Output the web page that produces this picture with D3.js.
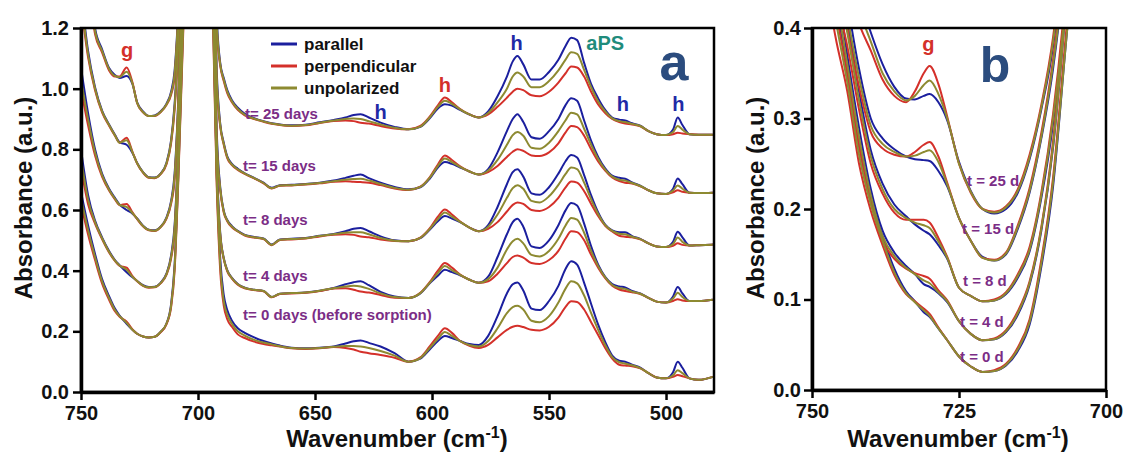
<!DOCTYPE html>
<html>
<head>
<meta charset="utf-8">
<script src="https://cdn.jsdelivr.net/npm/d3@7"></script>
<style>
  body { margin: 0; background: #fff; }
  svg text { font-family: "Liberation Sans", Arial, sans-serif; font-weight: bold; }
</style>
</head>
<body>
<svg id="chart" width="1124" height="452"></svg>
<script>
// ---------- Panel a: full spectra, 750-480 cm-1 ----------
const wnA = [750, 747, 744, 741, 738, 735.5, 733.5, 730.5, 728, 726,
  723.5, 721, 718.5, 716, 713.5, 711.5, 710, 708.5, 706, 700,
  694, 692, 690.5, 689, 687.5, 685.5, 683, 680, 676, 672,
  668.5, 665, 660, 654, 648, 642, 637, 633.5, 630.5, 627,
  622, 616, 610, 605, 601, 597.5, 594.5, 591.5, 588, 584,
  580, 576, 572, 568, 565.5, 563.5, 561, 557.5, 554, 550,
  546, 543, 540.5, 538, 535, 532, 529, 526, 523, 520,
  517.5, 514.5, 511, 507.5, 504, 500, 497, 495, 493, 490,
  486, 480];

const a25Par = [1.62, 1.42, 1.2, 1.13, 1.068, 1.045, 1.035, 1.042, 1.015, 0.955,
  0.925, 0.91, 0.912, 0.925, 0.95, 0.99, 1.06, 1.25, 1.85, 2.6,
  1.9, 1.24, 1.085, 1.035, 0.995, 0.962, 0.937, 0.917, 0.903, 0.893,
  0.886, 0.882, 0.879, 0.881, 0.889, 0.897, 0.905, 0.913, 0.916, 0.905,
  0.888, 0.874, 0.866, 0.874, 0.902, 0.935, 0.949, 0.944, 0.93, 0.915,
  0.905, 0.925, 0.975, 1.04, 1.09, 1.108, 1.08, 1.03, 1.03, 1.055,
  1.095, 1.14, 1.168, 1.16, 1.085, 1.015, 0.968, 0.93, 0.905, 0.898,
  0.895, 0.886, 0.878, 0.86, 0.85, 0.847, 0.865, 0.905, 0.88, 0.85,
  0.848, 0.848];
const a25Unp = [1.6, 1.4, 1.19, 1.125, 1.065, 1.042, 1.038, 1.056, 1.017, 0.953,
  0.923, 0.91, 0.911, 0.923, 0.948, 0.985, 1.05, 1.24, 1.83, 2.6,
  1.88, 1.22, 1.08, 1.03, 0.99, 0.958, 0.933, 0.914, 0.901, 0.892,
  0.885, 0.881, 0.878, 0.88, 0.888, 0.895, 0.9, 0.902, 0.9, 0.893,
  0.882, 0.871, 0.866, 0.875, 0.905, 0.94, 0.96, 0.95, 0.932, 0.915,
  0.905, 0.92, 0.955, 1.0, 1.04, 1.053, 1.04, 1.005, 1.005, 1.025,
  1.06, 1.095, 1.12, 1.115, 1.062, 1.005, 0.958, 0.925, 0.902, 0.893,
  0.89, 0.884, 0.877, 0.86, 0.85, 0.847, 0.857, 0.877, 0.865, 0.85,
  0.848, 0.848];
const a25Per = [1.58, 1.38, 1.18, 1.12, 1.06, 1.04, 1.04, 1.07, 1.02, 0.952,
  0.922, 0.91, 0.91, 0.922, 0.946, 0.98, 1.04, 1.23, 1.8, 2.6,
  1.86, 1.2, 1.075, 1.025, 0.985, 0.955, 0.93, 0.912, 0.9, 0.891,
  0.884, 0.88, 0.877, 0.879, 0.887, 0.893, 0.895, 0.893, 0.888, 0.885,
  0.877, 0.869, 0.866, 0.877, 0.908, 0.945, 0.971, 0.955, 0.933, 0.915,
  0.905, 0.915, 0.94, 0.97, 0.99, 1.0, 0.995, 0.978, 0.975, 0.99,
  1.02, 1.05, 1.073, 1.07, 1.04, 0.99, 0.948, 0.92, 0.9, 0.89,
  0.885, 0.882, 0.876, 0.86, 0.85, 0.847, 0.85, 0.855, 0.852, 0.85,
  0.848, 0.848];

const a15Par = [1.32, 1.125, 1.005, 0.928, 0.882, 0.848, 0.823, 0.815, 0.788, 0.755,
  0.725, 0.708, 0.707, 0.72, 0.755, 0.83, 0.95, 1.15, 1.7, 2.5,
  1.75, 1.06, 0.885, 0.822, 0.777, 0.752, 0.736, 0.721, 0.706, 0.69,
  0.673, 0.682, 0.683, 0.686, 0.69, 0.697, 0.706, 0.713, 0.717, 0.705,
  0.69, 0.676, 0.668, 0.675, 0.703, 0.74, 0.758, 0.752, 0.74, 0.727,
  0.717, 0.735, 0.79, 0.86, 0.9, 0.916, 0.89, 0.84, 0.835, 0.86,
  0.9, 0.945, 0.968, 0.96, 0.895, 0.828, 0.775, 0.737, 0.713, 0.706,
  0.703, 0.691, 0.68, 0.665, 0.655, 0.653, 0.67, 0.704, 0.685, 0.657,
  0.656, 0.657];
const a15Unp = [1.3, 1.115, 1.0, 0.925, 0.88, 0.846, 0.822, 0.83, 0.79, 0.754,
  0.724, 0.707, 0.706, 0.719, 0.753, 0.825, 0.94, 1.14, 1.68, 2.5,
  1.72, 1.04, 0.88, 0.818, 0.774, 0.75, 0.734, 0.72, 0.705, 0.689,
  0.672, 0.681, 0.682, 0.685, 0.689, 0.695, 0.7, 0.702, 0.703, 0.697,
  0.686, 0.673, 0.667, 0.676, 0.706, 0.745, 0.77, 0.758, 0.742, 0.727,
  0.717, 0.73, 0.765, 0.815, 0.847, 0.857, 0.845, 0.805, 0.802, 0.822,
  0.86, 0.895, 0.921, 0.915, 0.868, 0.815, 0.768, 0.733, 0.71, 0.7,
  0.697, 0.689, 0.679, 0.665, 0.655, 0.653, 0.664, 0.681, 0.67, 0.657,
  0.656, 0.657];
const a15Per = [1.28, 1.105, 0.995, 0.922, 0.878, 0.845, 0.822, 0.838, 0.792, 0.753,
  0.723, 0.706, 0.705, 0.718, 0.75, 0.82, 0.93, 1.13, 1.66, 2.5,
  1.7, 1.02, 0.875, 0.815, 0.771, 0.748, 0.732, 0.719, 0.704, 0.688,
  0.671, 0.68, 0.681, 0.684, 0.688, 0.693, 0.695, 0.693, 0.692, 0.69,
  0.682, 0.671, 0.666, 0.677, 0.708, 0.75, 0.78, 0.765, 0.744, 0.727,
  0.717, 0.725, 0.745, 0.775, 0.792, 0.8, 0.795, 0.78, 0.778, 0.79,
  0.82, 0.855, 0.877, 0.873, 0.845, 0.8, 0.76, 0.73, 0.707, 0.695,
  0.69, 0.687, 0.678, 0.665, 0.655, 0.653, 0.658, 0.665, 0.66, 0.657,
  0.656, 0.657];

const a8Par = [1.07, 0.92, 0.8, 0.72, 0.67, 0.64, 0.618, 0.6, 0.588, 0.572,
  0.548, 0.535, 0.533, 0.545, 0.575, 0.63, 0.72, 0.95, 1.6, 2.4,
  1.6, 0.86, 0.675, 0.598, 0.567, 0.547, 0.531, 0.518, 0.511, 0.506,
  0.486, 0.503, 0.505, 0.508, 0.515, 0.521, 0.53, 0.538, 0.541, 0.53,
  0.513, 0.5, 0.497, 0.507, 0.535, 0.563, 0.58, 0.572, 0.56, 0.542,
  0.53, 0.55, 0.61, 0.685, 0.725, 0.734, 0.71, 0.655, 0.65, 0.675,
  0.72, 0.76, 0.781, 0.773, 0.715, 0.648, 0.592, 0.552, 0.533, 0.527,
  0.527, 0.514, 0.505, 0.49, 0.48, 0.478, 0.495, 0.528, 0.51, 0.483,
  0.484, 0.486];
const a8Unp = [1.03, 0.9, 0.79, 0.715, 0.667, 0.637, 0.617, 0.61, 0.59, 0.571,
  0.547, 0.534, 0.532, 0.544, 0.573, 0.625, 0.71, 0.94, 1.58, 2.4,
  1.58, 0.84, 0.67, 0.595, 0.565, 0.545, 0.53, 0.517, 0.51, 0.505,
  0.485, 0.502, 0.504, 0.507, 0.514, 0.52, 0.525, 0.527, 0.527, 0.52,
  0.508, 0.499, 0.497, 0.508, 0.537, 0.57, 0.592, 0.578, 0.561, 0.542,
  0.53, 0.545, 0.585, 0.64, 0.672, 0.682, 0.67, 0.63, 0.625, 0.645,
  0.683, 0.718, 0.74, 0.735, 0.69, 0.635, 0.587, 0.55, 0.531, 0.522,
  0.52, 0.512, 0.504, 0.49, 0.48, 0.478, 0.488, 0.509, 0.495, 0.483,
  0.484, 0.486];
const a8Per = [1.0, 0.88, 0.78, 0.71, 0.664, 0.635, 0.616, 0.62, 0.592, 0.57,
  0.546, 0.533, 0.531, 0.543, 0.571, 0.62, 0.7, 0.93, 1.56, 2.4,
  1.56, 0.82, 0.665, 0.592, 0.563, 0.543, 0.529, 0.516, 0.509, 0.504,
  0.484, 0.501, 0.503, 0.506, 0.513, 0.518, 0.52, 0.518, 0.513, 0.51,
  0.503, 0.498, 0.497, 0.509, 0.539, 0.578, 0.602, 0.585, 0.562, 0.542,
  0.53, 0.538, 0.56, 0.595, 0.617, 0.625, 0.62, 0.6, 0.597, 0.61,
  0.64, 0.674, 0.694, 0.69, 0.662, 0.62, 0.58, 0.548, 0.529, 0.515,
  0.512, 0.51, 0.503, 0.49, 0.48, 0.478, 0.482, 0.49, 0.485, 0.483,
  0.484, 0.486];

const a4Par = [0.8, 0.65, 0.565, 0.51, 0.465, 0.435, 0.418, 0.395, 0.378, 0.366,
  0.352, 0.346, 0.347, 0.36, 0.39, 0.45, 0.55, 0.8, 1.5, 2.3,
  1.5, 0.76, 0.525, 0.442, 0.402, 0.376, 0.356, 0.344, 0.337, 0.333,
  0.313, 0.324, 0.326, 0.328, 0.334, 0.343, 0.355, 0.362, 0.365, 0.352,
  0.33, 0.315, 0.31, 0.325, 0.358, 0.383, 0.403, 0.395, 0.385, 0.37,
  0.36, 0.38, 0.445, 0.52, 0.56, 0.571, 0.545, 0.48, 0.475, 0.5,
  0.55, 0.598, 0.623, 0.615, 0.555, 0.48, 0.42, 0.38, 0.356, 0.348,
  0.345, 0.333, 0.325, 0.31, 0.298, 0.295, 0.315, 0.346, 0.325, 0.3,
  0.3, 0.304];
const a4Unp = [0.77, 0.635, 0.56, 0.507, 0.462, 0.433, 0.417, 0.403, 0.38, 0.366,
  0.351, 0.345, 0.346, 0.359, 0.388, 0.445, 0.54, 0.79, 1.48, 2.3,
  1.48, 0.74, 0.52, 0.44, 0.4, 0.375, 0.355, 0.343, 0.337, 0.333,
  0.313, 0.324, 0.326, 0.328, 0.334, 0.342, 0.348, 0.35, 0.348, 0.34,
  0.325, 0.313, 0.31, 0.326, 0.36, 0.392, 0.415, 0.402, 0.386, 0.37,
  0.36, 0.372, 0.41, 0.47, 0.497, 0.505, 0.49, 0.452, 0.447, 0.465,
  0.505, 0.548, 0.574, 0.568, 0.525, 0.465, 0.415, 0.378, 0.353, 0.343,
  0.34, 0.331, 0.324, 0.31, 0.298, 0.295, 0.308, 0.327, 0.313, 0.3,
  0.3, 0.304];
const a4Per = [0.74, 0.62, 0.555, 0.504, 0.46, 0.432, 0.416, 0.41, 0.382, 0.365,
  0.35, 0.344, 0.345, 0.358, 0.386, 0.44, 0.53, 0.78, 1.46, 2.3,
  1.46, 0.72, 0.515, 0.438, 0.398, 0.374, 0.354, 0.342, 0.336, 0.332,
  0.312, 0.323, 0.325, 0.327, 0.333, 0.341, 0.342, 0.337, 0.331, 0.328,
  0.32, 0.311, 0.31, 0.327, 0.362, 0.4, 0.425, 0.41, 0.387, 0.37,
  0.36, 0.365, 0.39, 0.425, 0.445, 0.45, 0.443, 0.425, 0.422, 0.435,
  0.465, 0.505, 0.53, 0.527, 0.5, 0.452, 0.41, 0.375, 0.35, 0.338,
  0.333, 0.329, 0.323, 0.31, 0.298, 0.295, 0.3, 0.306, 0.302, 0.3,
  0.3, 0.304];

const a0Par = [0.66, 0.55, 0.455, 0.372, 0.316, 0.275, 0.252, 0.225, 0.205, 0.192,
  0.183, 0.18, 0.182, 0.198, 0.225, 0.29, 0.42, 0.7, 1.3, 2.2,
  1.4, 0.72, 0.44, 0.32, 0.27, 0.235, 0.21, 0.195, 0.18, 0.168,
  0.16, 0.153, 0.146, 0.144, 0.146, 0.15, 0.16, 0.167, 0.17, 0.162,
  0.15, 0.128, 0.1, 0.11, 0.14, 0.168, 0.185, 0.178, 0.168, 0.158,
  0.155, 0.185, 0.25, 0.325, 0.355, 0.361, 0.335, 0.275, 0.27, 0.3,
  0.35, 0.405, 0.431, 0.42, 0.36, 0.29, 0.222, 0.165, 0.12, 0.103,
  0.1, 0.09, 0.08, 0.062, 0.048, 0.045, 0.065, 0.1, 0.08, 0.045,
  0.04, 0.05];
const a0Unp = [0.64, 0.535, 0.445, 0.365, 0.31, 0.27, 0.25, 0.228, 0.205, 0.192,
  0.183, 0.18, 0.182, 0.198, 0.225, 0.285, 0.41, 0.69, 1.28, 2.2,
  1.38, 0.7, 0.42, 0.3, 0.255, 0.225, 0.2, 0.186, 0.172, 0.163,
  0.157, 0.151, 0.145, 0.143, 0.145, 0.149, 0.152, 0.152, 0.15, 0.145,
  0.135, 0.12, 0.1, 0.112, 0.145, 0.175, 0.198, 0.185, 0.168, 0.155,
  0.15, 0.168, 0.21, 0.26, 0.28, 0.284, 0.272, 0.235, 0.23, 0.25,
  0.295, 0.34, 0.365, 0.358, 0.318, 0.26, 0.205, 0.155, 0.115, 0.098,
  0.094, 0.088, 0.079, 0.062, 0.048, 0.045, 0.055, 0.072, 0.062, 0.045,
  0.04, 0.05];
const a0Per = [0.62, 0.52, 0.435, 0.358, 0.304, 0.266, 0.248, 0.232, 0.206, 0.192,
  0.183, 0.18, 0.182, 0.197, 0.223, 0.28, 0.4, 0.68, 1.26, 2.2,
  1.36, 0.68, 0.4, 0.285, 0.24, 0.215, 0.19, 0.178, 0.166, 0.158,
  0.154, 0.15, 0.144, 0.142, 0.144, 0.148, 0.145, 0.14, 0.133, 0.128,
  0.122, 0.113, 0.1, 0.114, 0.15, 0.185, 0.21, 0.195, 0.168, 0.152,
  0.145, 0.155, 0.18, 0.205, 0.215, 0.218, 0.214, 0.205, 0.203, 0.215,
  0.245, 0.28, 0.299, 0.297, 0.272, 0.23, 0.188, 0.145, 0.11, 0.09,
  0.087, 0.085, 0.078, 0.062, 0.048, 0.045, 0.05, 0.056, 0.052, 0.045,
  0.04, 0.05];

const timeLabelsA = ["t= 25 days", "t= 15 days", "t= 8 days", "t= 4 days", "t= 0 days (before sorption)"];

// ---------- Panel b: zoom on the g band, 750-700 cm-1 ----------
const wnB = [750, 746, 744, 742, 740, 738, 736, 734, 732.5, 731,
  730, 728.5, 727, 725, 723, 721, 719, 717, 715, 713,
  711, 709, 707, 705, 700];

const b25Par = [0.8, 0.58, 0.48, 0.435, 0.395, 0.36, 0.335, 0.322, 0.321, 0.325, 0.327, 0.318, 0.298, 0.252, 0.22, 0.2, 0.195, 0.2, 0.218, 0.255, 0.31, 0.38, 0.5, 0.7, 1.2];
const b25Unp = [0.78, 0.56, 0.465, 0.42, 0.385, 0.35, 0.33, 0.32, 0.325, 0.337, 0.342, 0.327, 0.3, 0.25, 0.219, 0.2, 0.196, 0.202, 0.22, 0.257, 0.312, 0.385, 0.5, 0.7, 1.2];
const b25Per = [0.76, 0.54, 0.45, 0.405, 0.375, 0.343, 0.325, 0.318, 0.33, 0.35, 0.358, 0.338, 0.302, 0.25, 0.218, 0.2, 0.197, 0.203, 0.222, 0.26, 0.315, 0.39, 0.51, 0.7, 1.2];

const b15Par = [0.72, 0.52, 0.43, 0.355, 0.3, 0.278, 0.266, 0.258, 0.255, 0.254, 0.253, 0.242, 0.225, 0.19, 0.165, 0.147, 0.143, 0.15, 0.178, 0.218, 0.278, 0.355, 0.47, 0.65, 1.2];
const b15Unp = [0.7, 0.5, 0.415, 0.345, 0.292, 0.272, 0.263, 0.258, 0.259, 0.263, 0.265, 0.252, 0.227, 0.19, 0.165, 0.146, 0.143, 0.151, 0.18, 0.22, 0.28, 0.36, 0.47, 0.65, 1.2];
const b15Per = [0.68, 0.48, 0.4, 0.335, 0.285, 0.267, 0.26, 0.258, 0.263, 0.271, 0.274, 0.258, 0.229, 0.19, 0.165, 0.146, 0.144, 0.152, 0.182, 0.223, 0.284, 0.365, 0.48, 0.66, 1.2];

const b8Par = [0.68, 0.48, 0.41, 0.33, 0.265, 0.228, 0.205, 0.192, 0.183, 0.176, 0.172, 0.16, 0.145, 0.113, 0.104, 0.098, 0.099, 0.106, 0.124, 0.153, 0.212, 0.295, 0.42, 0.6, 1.2];
const b8Unp = [0.66, 0.46, 0.395, 0.32, 0.258, 0.222, 0.2, 0.19, 0.185, 0.182, 0.179, 0.164, 0.146, 0.113, 0.104, 0.098, 0.099, 0.107, 0.126, 0.155, 0.215, 0.3, 0.42, 0.6, 1.2];
const b8Per = [0.64, 0.44, 0.38, 0.31, 0.25, 0.217, 0.196, 0.188, 0.188, 0.188, 0.185, 0.168, 0.147, 0.113, 0.104, 0.098, 0.1, 0.108, 0.128, 0.158, 0.218, 0.305, 0.43, 0.61, 1.2];

const b4Par = [0.62, 0.46, 0.37, 0.29, 0.222, 0.176, 0.152, 0.137, 0.128, 0.117, 0.114, 0.107, 0.097, 0.076, 0.062, 0.055, 0.056, 0.064, 0.083, 0.116, 0.176, 0.268, 0.41, 0.58, 1.2];
const b4Unp = [0.6, 0.44, 0.36, 0.28, 0.215, 0.17, 0.148, 0.135, 0.128, 0.121, 0.118, 0.108, 0.098, 0.076, 0.062, 0.055, 0.056, 0.065, 0.085, 0.118, 0.178, 0.27, 0.41, 0.58, 1.2];
const b4Per = [0.58, 0.42, 0.35, 0.27, 0.208, 0.165, 0.145, 0.134, 0.129, 0.126, 0.123, 0.11, 0.099, 0.076, 0.062, 0.055, 0.057, 0.066, 0.087, 0.12, 0.18, 0.275, 0.42, 0.59, 1.2];

const b0Par = [0.6, 0.43, 0.35, 0.27, 0.212, 0.17, 0.134, 0.109, 0.098, 0.086, 0.081, 0.068, 0.055, 0.037, 0.026, 0.02, 0.021, 0.027, 0.043, 0.072, 0.136, 0.225, 0.37, 0.52, 1.2];
const b0Unp = [0.58, 0.41, 0.34, 0.26, 0.205, 0.165, 0.13, 0.107, 0.097, 0.088, 0.082, 0.068, 0.055, 0.037, 0.026, 0.02, 0.021, 0.028, 0.045, 0.075, 0.14, 0.23, 0.37, 0.52, 1.2];
const b0Per = [0.56, 0.39, 0.33, 0.25, 0.198, 0.16, 0.127, 0.106, 0.098, 0.09, 0.084, 0.069, 0.055, 0.037, 0.026, 0.02, 0.022, 0.029, 0.047, 0.078, 0.144, 0.235, 0.38, 0.53, 1.2];

const timeLabelsB = ["t = 25 d", "t = 15 d", "t = 8 d", "t = 4 d", "t = 0 d"];

const polarizations = ["parallel", "perpendicular", "unpolarized"];
const colors = { parallel: "#1b1f9e", perpendicular: "#d4302a", unpolarized: "#8d8a31" };
const purple = "#7b2d86";

// Series tables built from the arrays above
const seriesA = [
  { parallel: a25Par, perpendicular: a25Per, unpolarized: a25Unp },
  { parallel: a15Par, perpendicular: a15Per, unpolarized: a15Unp },
  { parallel: a8Par, perpendicular: a8Per, unpolarized: a8Unp },
  { parallel: a4Par, perpendicular: a4Per, unpolarized: a4Unp },
  { parallel: a0Par, perpendicular: a0Per, unpolarized: a0Unp }
];
const seriesB = [
  { parallel: b25Par, perpendicular: b25Per, unpolarized: b25Unp },
  { parallel: b15Par, perpendicular: b15Per, unpolarized: b15Unp },
  { parallel: b8Par, perpendicular: b8Per, unpolarized: b8Unp },
  { parallel: b4Par, perpendicular: b4Per, unpolarized: b4Unp },
  { parallel: b0Par, perpendicular: b0Per, unpolarized: b0Unp }
];

const svg = d3.select("#chart");

function drawPanel(cfg) {
  const { x, y, wn, series, id, xTicks, yTicks, yPad } = cfg;
  const [x0, x1] = x.range();
  const [y0, y1] = y.range();
  const g = svg.append("g");

  g.append("clipPath").attr("id", id)
    .append("rect").attr("x", x0).attr("y", y1).attr("width", x1 - x0).attr("height", y0 - y1);

  const line = d3.line()
    .x(d => x(d[0]))
    .y(d => y(d[1]))
    .curve(d3.curveMonotoneX);

  const plot = g.append("g").attr("clip-path", `url(#${id})`);
  // blue first, then red, olive on top
  ["parallel", "perpendicular", "unpolarized"].forEach(p => {
    series.forEach(s => {
      plot.append("path")
        .datum(wn.map((w, i) => [w, s[p][i]]))
        .attr("d", line)
        .attr("fill", "none")
        .attr("stroke", colors[p])
        .attr("stroke-width", 2)
        .attr("stroke-linejoin", "round");
    });
  });

  // frame
  g.append("rect")
    .attr("x", x0).attr("y", y1).attr("width", x1 - x0).attr("height", y0 - y1)
    .attr("fill", "none").attr("stroke", "#000").attr("stroke-width", 2.5);

  const xAxis = g.append("g").attr("transform", `translate(0,${y0})`)
    .call(d3.axisBottom(x).tickValues(xTicks).tickFormat(d3.format("d"))
      .tickSize(8).tickSizeOuter(0).tickPadding(6));
  const yAxis = g.append("g").attr("transform", `translate(${x0},0)`)
    .call(d3.axisLeft(y).tickValues(yTicks).tickFormat(d3.format(".1f"))
      .tickSize(8).tickSizeOuter(0).tickPadding(yPad));
  [xAxis, yAxis].forEach(a => {
    a.select(".domain").attr("stroke-width", 3.5).attr("stroke", "#000");
    a.selectAll(".tick line").attr("stroke-width", 2.5).attr("stroke", "#000");
    a.selectAll(".tick text").attr("font-size", 20).attr("fill", "#111")
      .style("font-family", '"Liberation Sans", Arial, sans-serif').style("font-weight", "bold");
  });
  return g;
}

// ----- panel a -----
const xA = d3.scaleLinear().domain([750, 479.5]).range([81, 714]);
const yA = d3.scaleLinear().domain([0, 1.2]).range([392, 28]);
drawPanel({ x: xA, y: yA, wn: wnA, series: seriesA, id: "clipA", yPad: 4,
  xTicks: [750, 700, 650, 600, 550, 500], yTicks: [0, 0.2, 0.4, 0.6, 0.8, 1.0, 1.2] });

// ----- panel b -----
const xB = d3.scaleLinear().domain([750, 700]).range([812, 1106]);
const yB = d3.scaleLinear().domain([0, 0.4]).range([390, 28]);
drawPanel({ x: xB, y: yB, wn: wnB, series: seriesB, id: "clipB", yPad: 3,
  xTicks: [750, 725, 700], yTicks: [0, 0.1, 0.2, 0.3, 0.4] });

// axis titles
function axisTitles(cx, cy, xT, yT) {
  svg.append("text").attr("transform", `translate(${cx},${cy}) rotate(-90)`)
    .attr("text-anchor", "middle").attr("font-size", 24).attr("fill", "#111")
    .text("Absorbance (a.u.)");
  const t = svg.append("text").attr("x", xT).attr("y", yT)
    .attr("text-anchor", "middle").attr("font-size", 24).attr("fill", "#111");
  t.append("tspan").text("Wavenumber (cm");
  t.append("tspan").attr("dy", -9).attr("font-size", 16).text("-1");
  t.append("tspan").attr("dy", 9).text(")");
}
axisTitles(32, 198, 397, 447);
axisTitles(764, 198, 958, 447);

// legend (panel a)
polarizations.forEach((p, i) => {
  const yy = 44 + i * 22;
  svg.append("line").attr("x1", 271).attr("x2", 297).attr("y1", yy).attr("y2", yy)
    .attr("stroke", colors[p]).attr("stroke-width", 3);
  svg.append("text").attr("x", 304).attr("y", yy + 6).attr("font-size", 17).attr("fill", "#111").text(p);
});

// time labels, panel a
const tPosA = [[245, 119], [243, 171], [243, 225], [243, 281], [243, 320]];
timeLabelsA.forEach((t, i) => {
  svg.append("text").attr("x", tPosA[i][0]).attr("y", tPosA[i][1])
    .attr("font-size", 15).attr("fill", purple).text(t);
});
// time labels, panel b
const tPosB = [[967, 186], [962, 234], [963, 286], [960, 327], [960, 362]];
timeLabelsB.forEach((t, i) => {
  svg.append("text").attr("x", tPosB[i][0]).attr("y", tPosB[i][1])
    .attr("font-size", 15).attr("fill", purple).text(t);
});

// band annotations
const bandLabels = [
  { t: "g", x: xA(730.3), y: 57, c: "#d4302a" },
  { t: "h", x: xA(622), y: 119, c: "#1f2aa6" },
  { t: "h", x: xA(594.5), y: 92, c: "#d4302a" },
  { t: "h", x: xA(563.8), y: 50, c: "#1f2aa6" },
  { t: "aPS", x: xA(526), y: 50, c: "#1f8c7c" },
  { t: "h", x: xA(518.5), y: 111, c: "#1f2aa6" },
  { t: "h", x: xA(494.7), y: 111, c: "#1f2aa6" },
  { t: "g", x: xB(730.2), y: 51, c: "#d4302a" }
];
bandLabels.forEach(b => {
  svg.append("text").attr("x", b.x).attr("y", b.y).attr("text-anchor", "middle")
    .attr("font-size", 20).attr("fill", b.c).text(b.t);
});

// panel letters
svg.append("text").attr("x", 674).attr("y", 80).attr("text-anchor", "middle")
  .attr("font-size", 52).attr("fill", "#2b4c7e").text("a");
svg.append("text").attr("x", 995).attr("y", 82).attr("text-anchor", "middle")
  .attr("font-size", 50).attr("fill", "#2b4c7e").text("b");
</script>
</body>
</html>
